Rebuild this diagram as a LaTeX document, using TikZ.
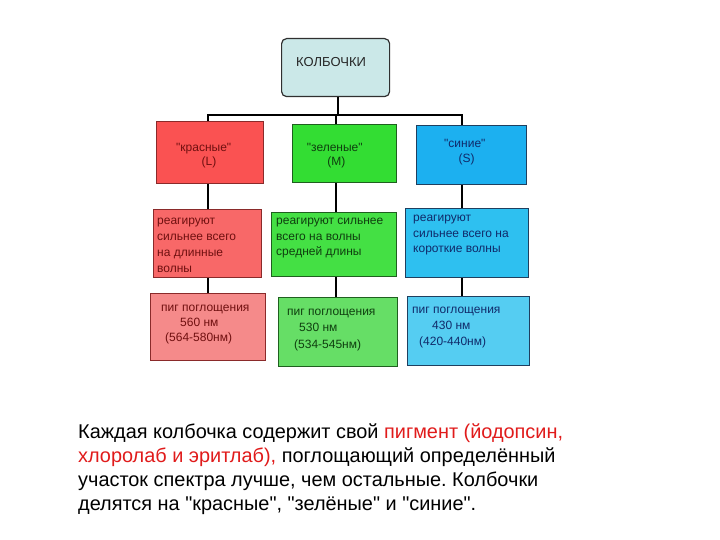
\documentclass[tikz,border=0pt]{standalone}
\usepackage{fontspec}
\setmainfont{Liberation Sans}[Ligatures=TeXOff]
\definecolor{topfill}{HTML}{CBE8E8}
\definecolor{topdraw}{HTML}{303030}
\definecolor{rA}{HTML}{FA5252}
\definecolor{rB}{HTML}{F86868}
\definecolor{rC}{HTML}{F58A8A}
\definecolor{gA}{HTML}{33DD33}
\definecolor{gB}{HTML}{44E044}
\definecolor{gC}{HTML}{66DE66}
\definecolor{bA}{HTML}{1CB0F0}
\definecolor{bB}{HTML}{2EC0F0}
\definecolor{bC}{HTML}{55CDF2}
\definecolor{rdraw}{HTML}{8A2A2A}
\definecolor{gdraw}{HTML}{1F5F1F}
\definecolor{bdraw}{HTML}{1F3F5F}
\definecolor{rtxt}{HTML}{701010}
\definecolor{gtxt}{HTML}{0F3F0F}
\definecolor{btxt}{HTML}{102A6A}
\definecolor{hilite}{HTML}{E01B1B}
\newcommand{\mybtxt}[2]{\parbox[t]{160pt}{\fontsize{12}{#1}\selectfont\raggedright #2}}
\begin{document}
\frenchspacing
\begin{tikzpicture}[x=1pt,y=-1pt,
  cbox/.style={draw, line width=1.2pt, inner sep=0pt, anchor=north west},
  txt/.style={anchor=base west, inner sep=0pt},
  conn/.style={draw=black, line width=1.8pt}]
\useasboundingbox (0,0) rectangle (720,540);
% top box
\node[cbox, draw=topdraw, fill=topfill, rounded corners=5pt, minimum width=108pt, minimum height=58pt] (top) at (281,38) {};
\node[txt, text=black!85] (topt) at (296,67) {\fontsize{13}{15}\selectfont КОЛБОЧКИ};
% row 1
\node[cbox, draw=rdraw, fill=rA, minimum width=107pt, minimum height=62pt] (r1) at (156,121) {};
\node[cbox, draw=gdraw, fill=gA, minimum width=104pt, minimum height=58pt] (g1) at (292,124) {};
\node[cbox, draw=bdraw, fill=bA, minimum width=110pt, minimum height=59pt] (b1) at (416,125) {};
% row 2
\node[cbox, draw=rdraw, fill=rB, minimum width=108pt, minimum height=68pt] (r2) at (153,209) {};
\node[cbox, draw=gdraw, fill=gB, minimum width=125pt, minimum height=64pt] (g2) at (271,212) {};
\node[cbox, draw=bdraw, fill=bB, minimum width=123pt, minimum height=69pt] (b2) at (405,208) {};
% row 3
\node[cbox, draw=rdraw, fill=rC, minimum width=115pt, minimum height=67pt] (r3) at (150,293) {};
\node[cbox, draw=gdraw, fill=gC, minimum width=119pt, minimum height=69pt] (g3) at (278,297) {};
\node[cbox, draw=bdraw, fill=bC, minimum width=122pt, minimum height=69pt] (b3) at (407,296) {};
% texts row 1
\node[txt, text=rtxt] (r1t) at (176,151.5) {\mybtxt{14.2}{"красные"\\\hspace*{25.5pt}(L)}};
\node[txt, text=gtxt] (g1t) at (306.7,151.5) {\mybtxt{14.2}{"зеленые"\\\hspace*{20.5pt}(M)}};
\node[txt, text=btxt] (b1t) at (444,148) {\mybtxt{14.5}{"синие"\\\hspace*{14.3pt}(S)}};
% texts row 2
\node[txt, text=rtxt] (r2t) at (157,225) {\mybtxt{15.7}{реагируют\\сильнее всего\\на длинные\\волны}};
\node[txt, text=gtxt] (g2t) at (276,225) {\mybtxt{15.5}{реагируют сильнее\\всего на волны\\средней длины}};
\node[txt, text=btxt] (b2t) at (413,222) {\mybtxt{15.5}{реагируют\\сильнее всего на\\короткие волны}};
% texts row 3
\node[txt, text=rtxt] (r3t) at (161,311) {\mybtxt{15}{пиг поглощения\\\hspace*{19pt}560 нм\\\hspace*{4pt}(564-580нм)}};
\node[txt, text=gtxt] (g3t) at (287,315) {\mybtxt{16.5}{пиг поглощения\\\hspace*{12pt}530 нм\\\hspace*{7pt}(534-545нм)}};
\node[txt, text=btxt] (b3t) at (412,313) {\mybtxt{16}{пиг поглощения\\\hspace*{20pt}430 нм\\\hspace*{7pt}(420-440нм)}};
% connectors
\coordinate (xt) at (338,0);
\coordinate (xr) at (208,0);
\coordinate (xg) at (336,0);
\coordinate (xb) at (462,0);
\coordinate (bus) at (0,115);
\draw[conn] (top.south -| xt) -- (xt |- bus);
\draw[conn] (r1.north -| xr) -- (xr |- bus) -- (xb |- bus) -- (b1.north -| xb);
\draw[conn] (xg |- bus) -- (g1.north -| xg);
\draw[conn] (r1.south -| xr) -- (r2.north -| xr);
\draw[conn] (g1.south -| xg) -- (g2.north -| xg);
\draw[conn] (b1.south -| xb) -- (b2.north -| xb);
\draw[conn] (r2.south -| xr) -- (r3.north -| xr);
\draw[conn] (g2.south -| xg) -- (g3.north -| xg);
\draw[conn] (b2.south -| xb) -- (b3.north -| xb);
% bottom text
\node[txt] (caption) at (78,438) {\parbox[t]{600pt}{\fontsize{19.9}{24}\selectfont\frenchspacing
Каждая колбочка содержит свой \textcolor{hilite}{пигмент (йодопсин,}\\
\textcolor{hilite}{хлоролаб и эритлаб),} поглощающий определённый\\
участок спектра лучше, чем остальные. Колбочки\\
делятся на "красные", "зелёные" и "синие".}};
\end{tikzpicture}
\end{document}
